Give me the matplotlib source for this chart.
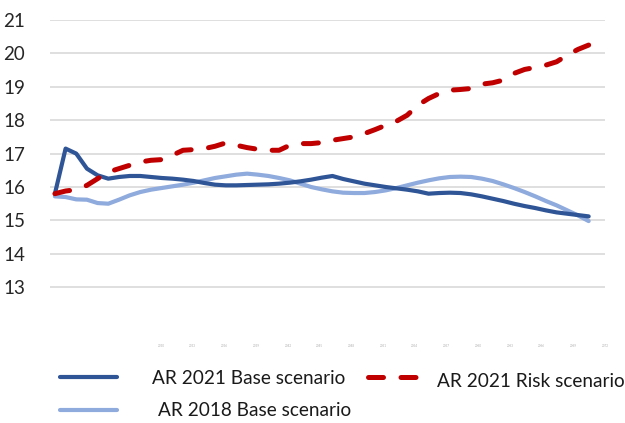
import matplotlib
matplotlib.use("Agg")
import matplotlib.pyplot as plt
from matplotlib.lines import Line2D

plt.rcParams['font.family'] = ['Lato', 'DejaVu Sans']

years = list(range(2020, 2071))

base_2021 = [15.80, 17.15, 17.00, 16.55, 16.35, 16.25, 16.30, 16.33, 16.33, 16.30,
             16.27, 16.25, 16.22, 16.18, 16.12, 16.07, 16.05, 16.05, 16.06, 16.07,
             16.08, 16.10, 16.13, 16.17, 16.22, 16.28, 16.33, 16.24, 16.17, 16.10,
             16.05, 16.00, 15.96, 15.92, 15.87, 15.80, 15.82, 15.83, 15.82, 15.78,
             15.72, 15.65, 15.58, 15.50, 15.43, 15.37, 15.30, 15.24, 15.20, 15.16,
             15.12]

risk_2021 = [15.80, 15.88, 15.92, 16.05, 16.25, 16.45, 16.55, 16.65, 16.75, 16.80,
             16.82, 16.95, 17.10, 17.12, 17.15, 17.22, 17.32, 17.25, 17.18, 17.13,
             17.10, 17.10, 17.25, 17.30, 17.30, 17.33, 17.40, 17.45, 17.50, 17.60,
             17.72, 17.85, 17.97, 18.15, 18.45, 18.65, 18.80, 18.90, 18.92, 18.95,
             19.08, 19.12, 19.20, 19.40, 19.52, 19.58, 19.65, 19.75, 19.95, 20.12,
             20.25]

base_2018 = [15.72, 15.70, 15.63, 15.62, 15.52, 15.50, 15.62, 15.75, 15.85, 15.92,
             15.97, 16.02, 16.07, 16.13, 16.20, 16.27, 16.32, 16.37, 16.40, 16.37,
             16.33, 16.27, 16.20, 16.10, 16.00, 15.93, 15.87, 15.83, 15.82, 15.82,
             15.85, 15.90, 15.97, 16.05, 16.13, 16.20, 16.26, 16.30, 16.31, 16.30,
             16.25, 16.18, 16.08, 15.97, 15.85, 15.72, 15.58, 15.45, 15.30, 15.15,
             14.98]

y_ticks = [13, 14, 15, 16, 17, 18, 19, 20, 21]
labels = ["AR 2021 Base scenario", "AR 2021 Risk scenario", "AR 2018 Base scenario"]

dark_blue = '#2f5597'
light_blue = '#8faadc'
red = '#c00000'

fig = plt.figure(figsize=(6.25, 4.23), dpi=100)
ax = fig.add_axes([0.08, 0.201, 0.888, 0.7517])

x = list(range(len(years)))
ax.plot(x, base_2018, color=light_blue, lw=3.0, solid_capstyle='round', zorder=3)
ax.plot(x, base_2021, color=dark_blue, lw=3.0, solid_capstyle='round', zorder=4)
ax.plot(x, risk_2021, color=red, lw=3.6, dashes=(3.0, 3.5), dash_capstyle='round', zorder=5)

ax.set_xlim(-0.46, 50.46)
ax.set_ylim(11.48, 21.0)
ax.set_yticks(y_ticks)
ax.set_yticklabels([str(v) for v in y_ticks], fontsize=13.5, color='#262626')
ax.tick_params(axis='y', length=0, pad=18)
ax.grid(axis='y', color='#d9d9d9', lw=1.2)
ax.set_axisbelow(True)
for s in ax.spines.values():
    s.set_visible(False)

tick_pos = [9.95 + 2.97 * k for k in range(15)]
ax.set_xticks(tick_pos)
ax.set_xticklabels([str(years[0] + 10 + 3 * k) for k in range(15)], fontsize=2.2, color='#b0b0b0')
ax.tick_params(axis='x', length=0, pad=4)

def fx(px):
    return px / 625.0

def fy(py):
    return 1 - py / 423.0

fig.add_artist(Line2D([fx(60), fx(117)], [fy(377), fy(377)], color=dark_blue, lw=3.0,
                      solid_capstyle='round'))
fig.text(fx(152), fy(378), labels[0], fontsize=13.7, color='#1a1a1a', va='center', ha='left')
fig.add_artist(Line2D([fx(368), fx(418)], [fy(377), fy(377)], color=red, lw=3.6,
                      dashes=(3.0, 3.5), dash_capstyle='round'))
fig.text(fx(437), fy(381), labels[1], fontsize=13.7, color='#1a1a1a', va='center', ha='left')
fig.add_artist(Line2D([fx(60), fx(117)], [fy(410), fy(410)], color=light_blue, lw=3.0,
                      solid_capstyle='round'))
fig.text(fx(158), fy(410), labels[2], fontsize=13.7, color='#1a1a1a', va='center', ha='left')

fig.savefig('out.png', dpi=100)
